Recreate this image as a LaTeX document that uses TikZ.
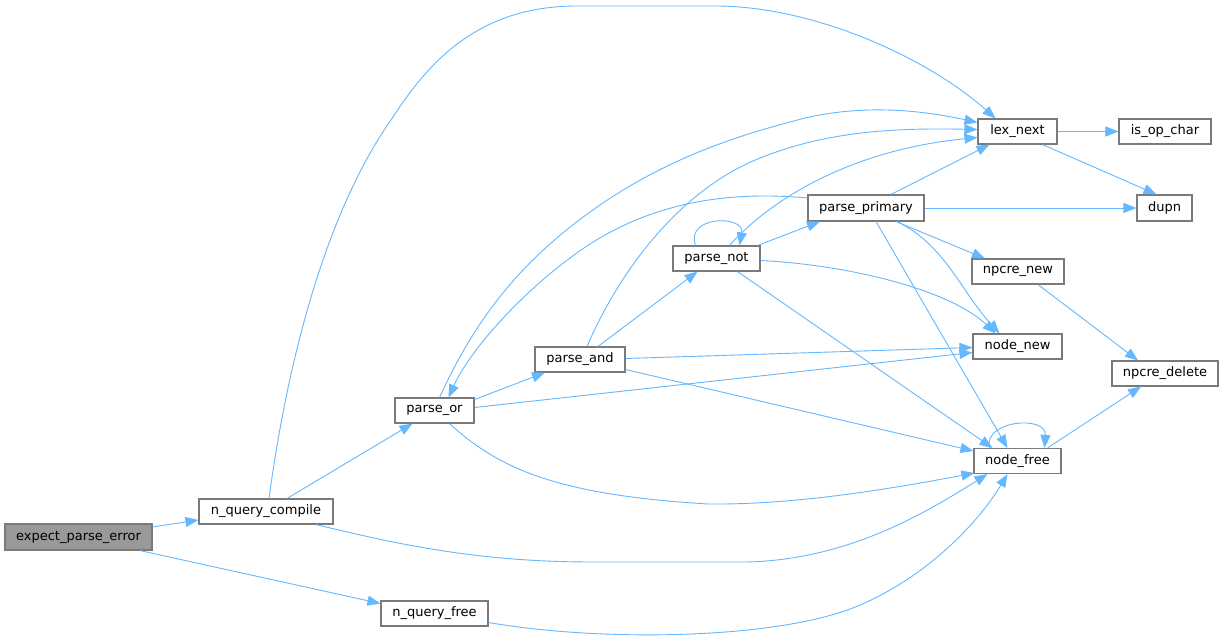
\documentclass[tikz,border=0pt]{standalone}
\usepackage{fontspec}
\setmainfont{DejaVu Sans}
\usetikzlibrary{arrows.meta,calc}
\definecolor{edgec}{HTML}{63B8FF}
\definecolor{nodeb}{HTML}{7A7A7A}
\definecolor{rootf}{HTML}{999999}
\begin{document}
\begin{tikzpicture}[x=1pt,y=-1pt,
  fn/.style={draw=nodeb,line width=1.1pt,fill=white,inner sep=0pt,minimum height=25pt,font=\fontsize{13}{15}\selectfont},
  root/.style={fn,fill=rootf},
  edge/.style={draw=edgec,line width=0.9pt,-{Triangle[length=13pt,width=10pt]}}]
\fill[white] (0,0) rectangle (1224,643);
\useasboundingbox (0,0) rectangle (1224,643);
% nodes
\node[root,minimum width=147pt,minimum height=26pt] (epe) at (78.5,537) {expect\_parse\_error};
\node[fn,minimum width=134pt] (nqc) at (266,511.5) {n\_query\_compile};
\node[fn,minimum width=107pt] (nqf) at (434.5,613.5) {n\_query\_free};
\node[fn,minimum width=79pt] (por) at (434.5,410.5) {parse\_or};
\node[fn,minimum width=90pt] (pand) at (580,359.5) {parse\_and};
\node[fn,minimum width=87pt] (pnot) at (716.5,258.5) {parse\_not};
\node[fn,minimum width=116pt,minimum height=26pt] (pprim) at (866,208) {parse\_primary};
\node[fn,minimum width=79pt] (lex) at (1017.5,131.5) {lex\_next};
\node[fn,minimum width=92pt] (isop) at (1165,131.5) {is\_op\_char};
\node[fn,minimum width=55pt,minimum height=26pt] (dupn) at (1164.5,208) {dupn};
\node[fn,minimum width=92pt] (npnew) at (1018,271.5) {npcre\_new};
\node[fn,minimum width=89pt] (nnew) at (1017.5,346.5) {node\_new};
\node[fn,minimum width=106pt] (npdel) at (1165,373.5) {npcre\_delete};
\node[fn,minimum width=87pt] (nfree) at (1017.5,461) {node\_free};
% edges
\draw[edge] ($(epe.east)+(0,-10)$) -- ($(nqc.west)+(0,8.5)$);
\draw[edge] ($(epe.south)+(61.5,0)$) -- ($(nqf.west)+(0,-10)$);
\draw[edge] ($(nqc.north)+(3,0)$) .. controls (285,380) and (320,220) .. (393,117)
  .. controls (430,60) and (480,6) .. (577,6) -- (720,6)
  .. controls (820,8) and (930,60) .. ($(lex.north)+(-22,0)$);
\draw[edge] ($(nqc.north)+(21,0)$) -- ($(por.south)+(-22,0)$);
\draw[edge] ($(nqc.south)+(50,0)$) .. controls (400,545) and (480,562) .. (593,562) -- (746,562)
  .. controls (850,560) and (930,510) .. ($(nfree.south)+(-30,0)$);
\draw[edge] ($(nqf.east)+(0,9)$) .. controls (600,642) and (780,640) .. (860,605)
  .. controls (930,575) and (980,520) .. ($(nfree.south)+(-10,0)$);
\draw[edge] ($(por.north)+(5,0)$) .. controls (475,320) and (520,260) .. (600,205)
  .. controls (680,150) and (760,130) .. (805,118)
  .. controls (870,103) and (930,112) .. ($(lex.west)+(0,-9)$);
\draw[edge] ($(por.east)+(0,-11)$) -- ($(pand.south)+(-35,0)$);
\draw[edge] ($(por.east)+(0,-3)$) -- ($(nnew.west)+(0,6)$);
\draw[edge] ($(por.south)+(15,0)$) .. controls (500,470) and (560,495) .. (708,504)
  .. controls (800,505) and (900,487) .. ($(nfree.south west)+(1,-1)$);
\draw[edge] ($(pand.north)+(7,0)$) .. controls (620,270) and (680,190) .. (760,158)
  .. controls (830,130) and (900,128) .. ($(lex.west)+(0,-2)$);
\draw[edge] ($(pand.north)+(18,0)$) -- ($(pnot.south)+(-19,0)$);
\draw[edge] ($(pand.east)+(0,-1)$) -- ($(nnew.west)+(0,1)$);
\draw[edge] ($(pand.east)+(0,10)$) -- ($(nfree.west)+(0,-10)$);
\draw[edge] ($(pnot.north)+(-21,0)$) .. controls (685,215) and (745,215) .. ($(pnot.north)+(23,0)$);
\draw[edge] ($(pnot.north)+(13,0)$) .. controls (770,200) and (850,150) .. ($(lex.west)+(0,6)$);
\draw[edge] ($(pnot.north)+(41,0)$) -- ($(pprim.south)+(-46,0)$);
\draw[edge] ($(pnot.east)+(0,2)$) .. controls (850,265) and (950,290) .. ($(nnew.north)+(-22,0)$);
\draw[edge] ($(pnot.south)+(21,0)$) -- ($(nfree.north)+(-25,0)$);
\draw[edge] ($(pprim.west)+(0,-10)$) .. controls (720,190) and (640,205) .. (570,258)
  .. controls (520,295) and (470,350) .. ($(por.north)+(14,0)$);
\draw[edge] ($(pprim.north)+(25,0)$) -- ($(lex.south)+(-28,0)$);
\draw[edge] (pprim.east) -- (dupn.west);
\draw[edge] ($(pprim.south)+(30,0)$) -- ($(npnew.north)+(-33,0)$);
\draw[edge] ($(pprim.south)+(31,0)$) .. controls (945,245) and (960,290) .. ($(nnew.north)+(-18,0)$);
\draw[edge] ($(pprim.south)+(10,0)$) -- ($(nfree.north)+(-10,0)$);
\draw[edge] (lex.east) -- (isop.west);
\draw[edge] ($(lex.south)+(25,0)$) -- ($(dupn.north)+(-8,0)$);
\draw[edge] ($(npnew.south)+(20,0)$) -- ($(npdel.north)+(-27,0)$);
\draw[edge] ($(nfree.north)+(30,0)$) -- ($(npdel.south)+(-24,0)$);
\draw[edge] ($(nfree.north)+(-28,0)$) .. controls (983,420) and (1047,415) .. ($(nfree.north)+(27,0)$);
\end{tikzpicture}
\end{document}
